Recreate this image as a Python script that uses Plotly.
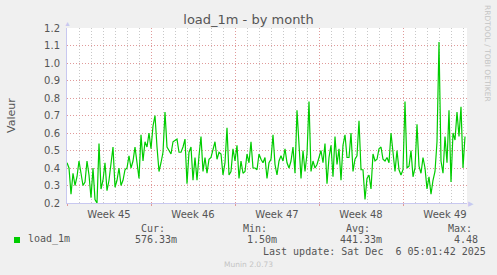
import pandas as pd
import plotly.graph_objects as go

# ---- data ----
start_time = "2025-11-03 00:00"
step = "4h"
load_values = [
    0.43, 0.40, 0.25, 0.37, 0.30, 0.35, 0.44, 0.37, 0.30, 0.32,
    0.44, 0.36, 0.23, 0.40, 0.22, 0.20, 0.54, 0.28, 0.33, 0.43,
    0.27, 0.33, 0.42, 0.52, 0.29, 0.33, 0.40, 0.30, 0.33, 0.39,
    0.40, 0.47, 0.40, 0.44, 0.52, 0.44, 0.34, 0.59, 0.44, 0.55,
    0.52, 0.60, 0.51, 0.64, 0.70, 0.52, 0.38, 0.43, 0.49, 0.72,
    0.52, 0.50, 0.48, 0.55, 0.56, 0.565, 0.49, 0.49, 0.52, 0.565,
    0.31, 0.49, 0.52, 0.33, 0.46, 0.33, 0.47, 0.58, 0.38, 0.46,
    0.37, 0.45, 0.46, 0.50, 0.55, 0.45, 0.49, 0.48, 0.36, 0.43,
    0.63, 0.36, 0.38, 0.51, 0.44, 0.53, 0.34, 0.44, 0.37, 0.38,
    0.48, 0.43, 0.55, 0.40, 0.40, 0.39, 0.48, 0.45, 0.43, 0.46,
    0.34, 0.43, 0.45, 0.59, 0.42, 0.36, 0.44, 0.47, 0.44, 0.51,
    0.43, 0.40, 0.44, 0.52, 0.37, 0.73, 0.50, 0.34, 0.50, 0.38,
    0.48, 0.78, 0.38, 0.44, 0.40, 0.42, 0.46, 0.50, 0.43, 0.54,
    0.31, 0.46, 0.53, 0.35, 0.58, 0.42, 0.51, 0.33, 0.53, 0.59,
    0.46, 0.46, 0.60, 0.38, 0.45, 0.47, 0.67, 0.39, 0.39, 0.22,
    0.34, 0.36, 0.28, 0.48, 0.44, 0.45, 0.51, 0.52, 0.45, 0.44,
    0.46, 0.43, 0.60, 0.48, 0.38, 0.50, 0.39, 0.36, 0.39, 0.78,
    0.40, 0.41, 0.50, 0.35, 0.40, 0.65, 0.41, 0.37, 0.46, 0.40,
    0.28, 0.35, 0.25, 0.33, 0.38, 0.55, 1.12, 0.44, 0.37, 0.58,
    0.43, 0.73, 0.32, 0.60, 0.56, 0.72, 0.58, 0.75, 0.40, 0.58,
]
times = pd.date_range(start=start_time, periods=len(load_values), freq=step)

x_range = ["2025-11-03 00:00", "2025-12-06 08:00"]
y_range = [0.2, 1.2]

title_text = "load_1m - by month"
y_title = "Valeur"
series_name = "load_1m"
stat_labels = ["Cur:", "Min:", "Avg:", "Max:"]
stat_values = ["576.33m", "1.50m", "441.33m", "4.48"]
last_update = "Last update: Sat Dec\u00a0 6 05:01:42 2025"
side_text = "RRDTOOL / TOBI OETIKER"
footer_text = "Munin 2.0.73"

# ---- layout geometry (pixels) ----
W, H = 497, 275
L, R, T, B = 67, 30, 28, 72
PW, PH = W - L - R, H - T - B


def px(xp):
    return (xp - L) / PW


def py(yp):
    return (H - B - yp) / PH


GREEN = "#00cc00"
TXT = "#555555"
MONO = "DejaVu Sans Mono"
SANS = "DejaVu Sans"
MAJOR_GRID = "#e09a9a"
MINOR_GRID = "#c8c8c8"
DOTS = "1px,2px"

fig = go.Figure()
fig.add_trace(go.Scatter(
    x=times, y=load_values, mode="lines",
    line=dict(color=GREEN, width=1.2), name=series_name,
    showlegend=False, hoverinfo="skip",
))

fig.update_layout(
    width=W, height=H,
    margin=dict(l=L, r=R, t=T, b=B),
    paper_bgcolor="#f0f0f0",
    plot_bgcolor="#ffffff",
    title=dict(text=title_text, x=0.5, xanchor="center", y=1 - 19 / H,
               yanchor="middle", font=dict(family=SANS, size=13, color=TXT)),
    showlegend=False,
)

fig.update_xaxes(
    type="date", range=x_range,
    tick0="2025-11-03", dtick=7 * 86400000,
    ticklabelmode="period", tickformat="Week %V",
    tickfont=dict(family=SANS, size=10, color=TXT),
    showgrid=True, gridcolor=MAJOR_GRID, griddash=DOTS, gridwidth=1,
    minor=dict(dtick=86400000, tick0="2025-11-03", showgrid=True,
               gridcolor=MINOR_GRID, griddash=DOTS, gridwidth=1),
    showline=True, linecolor="#c8c8f0", linewidth=1,
    ticks="outside", ticklen=2, tickcolor=MAJOR_GRID,
    zeroline=False,
)
fig.update_yaxes(
    range=y_range, dtick=0.1, tick0=0.2, tickformat=".1f",
    tickfont=dict(family=SANS, size=10, color=TXT),
    showgrid=True, gridcolor=MAJOR_GRID, griddash=DOTS, gridwidth=1,
    showline=True, linecolor="#c8c8f0", linewidth=1,
    ticks="", ticklabelstandoff=4,
    zeroline=False,
)

ann = []
# axis arrows
ann.append(dict(x=px(67), y=py(24), xref="paper", yref="paper", text="▲",
                showarrow=False, font=dict(size=7, color="#c8c8f0"),
                xanchor="center", yanchor="middle"))
ann.append(dict(x=px(471), y=py(203), xref="paper", yref="paper", text="▶",
                showarrow=False, font=dict(size=7, color="#c8c8f0"),
                xanchor="center", yanchor="middle"))
# y title
ann.append(dict(x=px(11), y=py(115), xref="paper", yref="paper", text=y_title,
                textangle=-90, showarrow=False,
                font=dict(family=SANS, size=11, color=TXT),
                xanchor="center", yanchor="middle"))
# side text
ann.append(dict(x=px(488), y=py(53), xref="paper", yref="paper", text=side_text,
                textangle=90, showarrow=False,
                font=dict(family=SANS, size=7.5, color="#c4c4c4"),
                xanchor="center", yanchor="middle"))
# legend
ann.append(dict(x=px(26), y=py(239), xref="paper", yref="paper", text=series_name,
                showarrow=False, font=dict(family=MONO, size=10, color=TXT),
                xanchor="left", yanchor="middle"))
label_x = [139, 241, 344, 446]
value_x = [133, 245, 338, 452]
for lab, lx in zip(stat_labels, label_x):
    ann.append(dict(x=px(lx), y=py(228), xref="paper", yref="paper", text=lab,
                    showarrow=False, font=dict(family=MONO, size=10, color=TXT),
                    xanchor="left", yanchor="middle"))
for val, vx in zip(stat_values, value_x):
    ann.append(dict(x=px(vx), y=py(239), xref="paper", yref="paper", text=val,
                    showarrow=False, font=dict(family=MONO, size=10, color=TXT),
                    xanchor="left", yanchor="middle"))
ann.append(dict(x=px(261), y=py(251), xref="paper", yref="paper", text=last_update,
                showarrow=False, font=dict(family=MONO, size=10, color=TXT),
                xanchor="left", yanchor="middle"))
ann.append(dict(x=px(248), y=py(264), xref="paper", yref="paper", text=footer_text,
                showarrow=False, font=dict(family=SANS, size=7.5, color="#c4c4c4"),
                xanchor="center", yanchor="middle"))
fig.update_layout(annotations=ann)

# legend colour square
fig.add_shape(type="rect", xref="paper", yref="paper",
              x0=px(14), x1=px(20), y0=py(243), y1=py(237),
              fillcolor=GREEN, line=dict(width=0))

fig.write_html("out.html")
